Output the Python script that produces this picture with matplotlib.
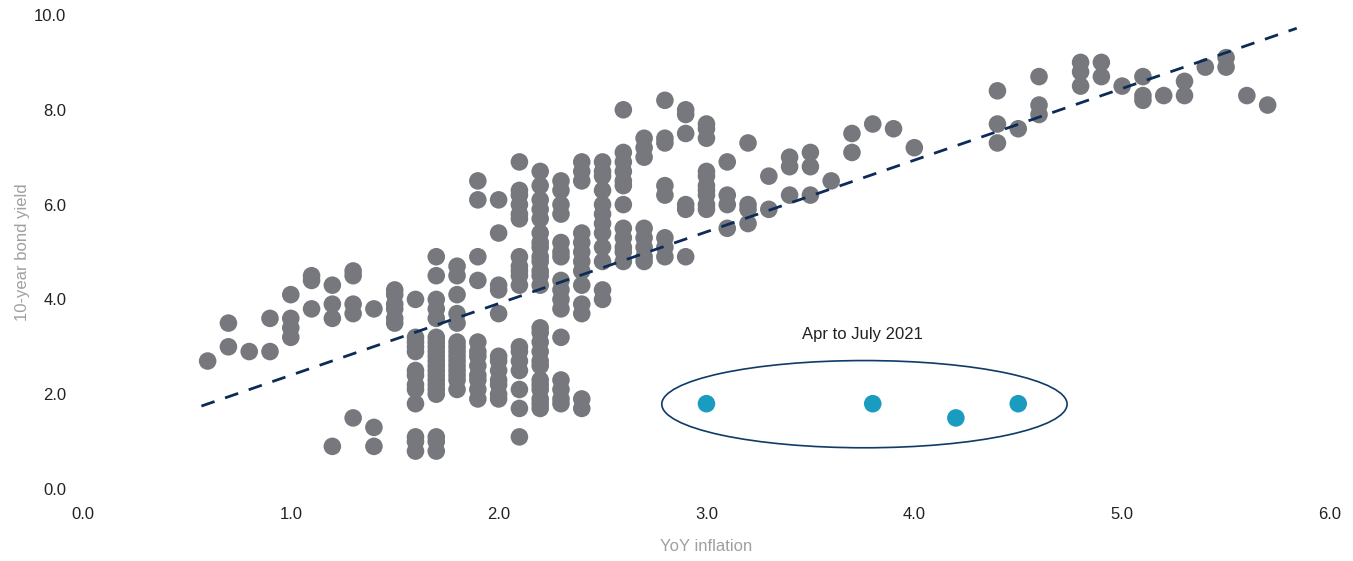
import matplotlib
matplotlib.use("Agg")
import matplotlib.pyplot as plt
from matplotlib.patches import Ellipse

plt.rcParams['font.family'] = ['Liberation Sans', 'DejaVu Sans']

# inflation columns (x) and the bond yields observed at each of them
col_x = [0.6, 0.7, 0.8, 0.9, 1.0, 1.1, 1.2, 1.3, 1.4, 1.5, 1.6, 1.7, 1.8, 1.9, 2.0,
         2.1, 2.2, 2.3, 2.4, 2.5, 2.6, 2.7, 2.8, 2.9, 3.0, 3.1, 3.2, 3.3, 3.4, 3.5,
         3.6, 3.7, 3.8, 3.9, 4.0, 4.4, 4.5, 4.6, 4.8, 4.9, 5.0, 5.1, 5.2, 5.3, 5.4,
         5.5, 5.6, 5.7]
col_y = [
    [2.7],
    [3.5, 3.0],
    [2.9],
    [3.6, 2.9],
    [4.1, 3.6, 3.4, 3.2],
    [4.5, 4.4, 3.8],
    [4.3, 3.9, 3.6, 0.9],
    [4.6, 4.5, 3.9, 3.7, 1.5],
    [3.8, 1.3, 0.9],
    [4.2, 4.1, 3.9, 3.8, 3.6, 3.5],
    [4.0, 3.2, 3.1, 3.0, 2.9, 2.5, 2.4, 2.2, 2.1, 1.8, 1.1, 1.0, 0.8],
    [4.9, 4.5, 4.0, 3.8, 3.6, 3.2, 3.1, 3.0, 2.9, 2.8, 2.7, 2.6, 2.5, 2.4, 2.3,
     2.2, 2.1, 2.0, 1.1, 1.0, 0.8],
    [4.7, 4.5, 4.1, 3.7, 3.5, 3.1, 3.0, 2.9, 2.8, 2.7, 2.6, 2.5, 2.4, 2.3, 2.1],
    [6.5, 6.1, 4.9, 4.4, 3.1, 2.9, 2.8, 2.6, 2.4, 2.3, 2.1, 1.9],
    [6.1, 5.4, 4.3, 4.2, 3.7, 2.8, 2.7, 2.5, 2.3, 2.2, 2.0, 1.9],
    [6.9, 6.3, 6.2, 6.0, 5.8, 5.7, 4.9, 4.7, 4.6, 4.5, 4.3, 3.0, 2.9, 2.7, 2.5,
     2.1, 1.7, 1.1],
    [6.7, 6.4, 6.1, 5.9, 5.7, 5.4, 5.2, 5.1, 4.9, 4.8, 4.6, 4.5, 4.3, 3.4, 3.3,
     3.1, 2.9, 2.7, 2.6, 2.3, 2.2, 2.1, 1.9, 1.8, 1.7],
    [6.5, 6.3, 6.0, 5.8, 5.2, 5.0, 4.9, 4.4, 4.2, 4.0, 3.8, 3.2, 2.3, 2.1, 1.9, 1.8],
    [6.9, 6.7, 6.5, 5.4, 5.2, 5.0, 4.8, 4.6, 4.3, 3.9, 3.7, 1.9, 1.7],
    [6.9, 6.7, 6.6, 6.3, 6.0, 5.8, 5.6, 5.4, 5.1, 4.8, 4.2, 4.0],
    [8.0, 7.1, 6.9, 6.7, 6.5, 6.4, 6.0, 5.5, 5.3, 5.1, 5.0, 4.8],
    [7.4, 7.2, 7.0, 5.5, 5.3, 5.1, 4.9, 4.8],
    [8.2, 7.4, 7.3, 6.4, 6.2, 5.3, 5.1, 4.9],
    [8.0, 7.9, 7.5, 6.0, 5.9, 4.9],
    [7.7, 7.6, 7.4, 6.7, 6.6, 6.4, 6.3, 6.2, 6.0, 5.9],
    [6.9, 6.2, 6.0, 5.5],
    [7.3, 6.0, 5.9, 5.6],
    [6.6, 5.9],
    [7.0, 6.8, 6.2],
    [7.1, 6.8, 6.2],
    [6.5],
    [7.5, 7.1],
    [7.7],
    [7.6],
    [7.2],
    [8.4, 7.7, 7.3],
    [7.6],
    [8.7, 8.1, 7.9],
    [9.0, 8.8, 8.5],
    [9.0, 8.7],
    [8.5],
    [8.7, 8.3, 8.2],
    [8.3],
    [8.6, 8.3],
    [8.9],
    [9.1, 8.9],
    [8.3],
    [8.1],
]

# Apr to July 2021
recent_x = [3.0, 3.8, 4.2, 4.5]
recent_y = [1.8, 1.8, 1.5, 1.8]

# trend line end points
trend_x = [0.57, 5.84]
trend_y = [1.75, 9.72]

xticks = [0.0, 1.0, 2.0, 3.0, 4.0, 5.0, 6.0]
yticks = [0.0, 2.0, 4.0, 6.0, 8.0, 10.0]

inflation = []
bond_yield = []
for x, ys in zip(col_x, col_y):
    for y in ys:
        inflation.append(x)
        bond_yield.append(y)

fig = plt.figure(figsize=(13.53, 5.61), dpi=100)
ax = fig.add_axes([0.0613, 0.1283, 0.9217, 0.845])

ax.scatter(inflation, bond_yield, s=160, color='#76787d', edgecolors='none', zorder=2)
ax.plot(trend_x, trend_y, color='#0c2c57', lw=2, dashes=(5, 4), zorder=3)
ax.scatter(recent_x, recent_y, s=160, color='#1a9cc0', edgecolors='none', zorder=4)

ax.add_patch(Ellipse((3.76, 1.79), 1.95, 1.84, fill=False, edgecolor='#0f3b66', lw=1.2, zorder=3))
ax.text(3.75, 3.27, 'Apr to July 2021', ha='center', va='center', fontsize=12, color='#222222')

ax.set_xlim(0, 6)
ax.set_ylim(0, 10)
ax.set_xticks(xticks)
ax.set_yticks(yticks)
ax.set_xticklabels([f'{t:.1f}' for t in xticks])
ax.set_yticklabels([f'{t:.1f}' for t in yticks])
ax.tick_params(length=0, labelsize=12, labelcolor='#222222')
ax.tick_params(axis='x', pad=13)
ax.tick_params(axis='y', pad=12)
for s in ax.spines.values():
    s.set_visible(False)

ax.set_xlabel('YoY inflation', fontsize=12, color='#a0a0a0', labelpad=12)
ax.set_ylabel('10-year bond yield', fontsize=12, color='#a0a0a0', labelpad=3)

plt.savefig('out.png', dpi=100)
